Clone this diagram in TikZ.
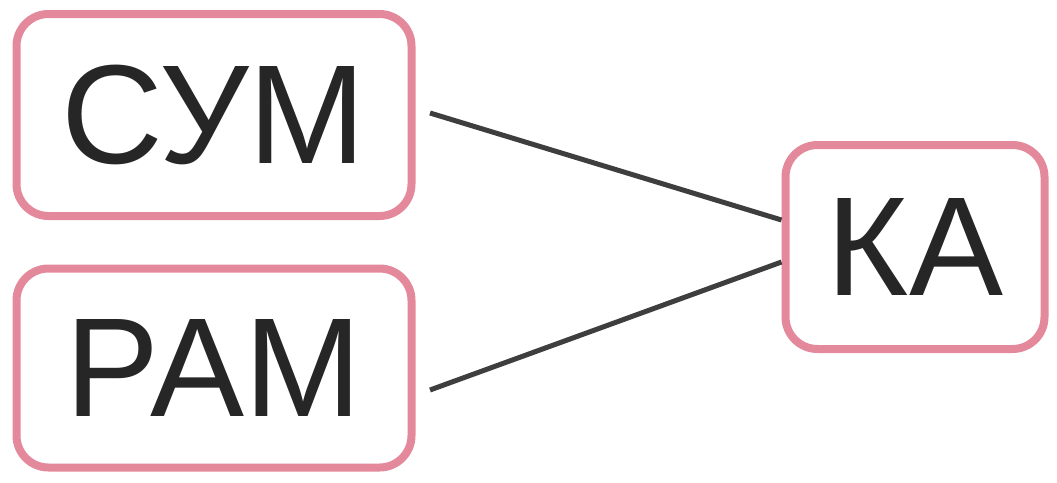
\documentclass[tikz,border=0pt]{standalone}
\usepackage{fontspec}
\setmainfont{Liberation Sans}
\newfontfamily\lblfont{Liberation Sans}
\definecolor{boxpink}{HTML}{E3899B}
\definecolor{txt}{HTML}{262626}
\definecolor{edge}{HTML}{3E3E3E}
\begin{document}
\begin{tikzpicture}[x=1pt,y=-1pt,
  blk/.style={draw=boxpink,line width=8pt,rounded corners=32pt,fill=white,text=txt,
    font=\lblfont\fontsize{141}{141}\selectfont,inner sep=0pt},
  conn/.style={draw=edge,line width=5pt}]
\useasboundingbox[fill=white] (0,0) rectangle (1057,482);
\node[blk,minimum width=395pt,minimum height=202pt] (sum) at (214,115) {СУМ};
\node[blk,minimum width=395pt,minimum height=199pt] (ram) at (214,368) {РАМ};
\node[blk,minimum width=259pt,minimum height=204pt] (ka) at (915,247) {КА};
\coordinate (a1) at (430,113);
\coordinate (a2) at (430,390);
\draw[conn] (a1) -- (ka.west |- 0,220);
\draw[conn] (a2) -- (ka.west |- 0,262);
\end{tikzpicture}
\end{document}
